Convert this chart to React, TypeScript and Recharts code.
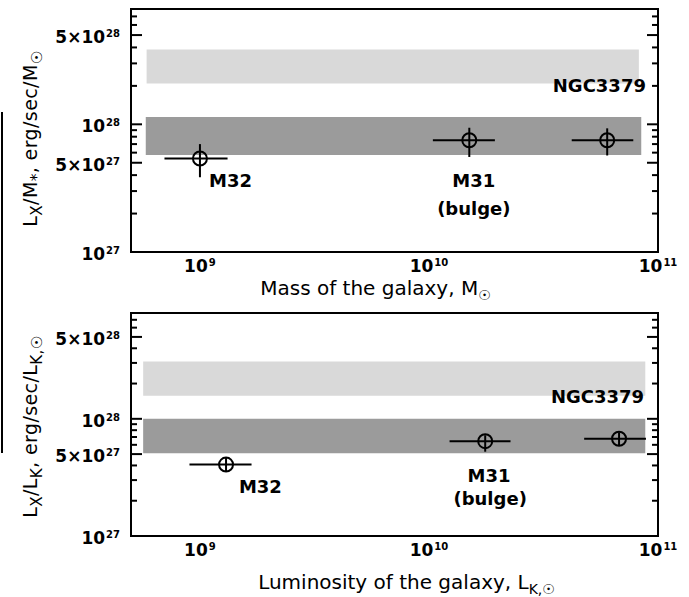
import React from 'react';
import { ComposedChart, Scatter, XAxis, YAxis, ErrorBar, ReferenceArea, Label } from 'recharts';

// axis ranges (log)
const xDomain = [5e8, 1e11];
const yDomain = [1e27, 8e28];

const xMajorTicks = [1e9, 1e10, 1e11];
const xMinorTicks = [6e8, 7e8, 8e8, 9e8, 2e9, 3e9, 4e9, 5e9, 6e9, 7e9, 8e9, 9e9, 2e10, 3e10, 4e10, 5e10, 6e10, 7e10, 8e10, 9e10];
const yMajorTicks = [1e27, 5e27, 1e28, 5e28];
const yMinorTicks = [2e27, 3e27, 4e27, 6e27, 7e27, 8e27, 9e27, 2e28, 3e28, 4e28, 6e28, 7e28];

// upper panel: per unit stellar mass
const massPoints = [
  { name: 'M32', x: 1.0e9, y: 5.4e27, xErr: [3.0e8, 3.2e8], yErr: [1.55e27, 1.6e27] },
  { name: 'M31', x: 1.5e10, y: 7.5e27, xErr: [0.46e10, 0.44e10], yErr: [1.95e27, 1.9e27] },
  { name: 'NGC3379', x: 6.0e10, y: 7.5e27, xErr: [1.8e10, 1.8e10], yErr: [1.8e27, 1.8e27] },
];
const massBands = [
  { kind: 'light', x1: 5.85e8, x2: 8.25e10, y1: 2.09e28, y2: 3.86e28 },
  { kind: 'dark', x1: 5.8e8, x2: 8.45e10, y1: 5.75e27, y2: 1.14e28 },
];
const massNotes = [
  { text: 'M32', x: 1.095e9, y: 3.63e27 },
  { text: 'M31', x: 1.57e10, y: 3.64e27 },
  { text: '(bulge)', x: 1.57e10, y: 2.19e27 },
  { text: 'NGC3379', x: 8.86e10, y: 2.01e28 },
];

// lower panel: per unit K-band luminosity
const lumPoints = [
  { name: 'M32', x: 1.3e9, y: 4.07e27, xErr: [0.4e9, 0.38e9], yErr: [0.5e27, 0.6e27] },
  { name: 'M31', x: 1.76e10, y: 6.44e27, xErr: [0.53e10, 0.51e10], yErr: [1.2e27, 0.8e27] },
  { name: 'NGC3379', x: 6.76e10, y: 6.76e27, xErr: [2.0e10, 2.1e10], yErr: [0.8e27, 0.9e27] },
];
const lumBands = [
  { kind: 'light', x1: 5.65e8, x2: 8.8e10, y1: 1.57e28, y2: 3.08e28 },
  { kind: 'dark', x1: 5.65e8, x2: 8.8e10, y1: 5.09e27, y2: 1.0e28 },
];
const lumNotes = [
  { text: 'M32', x: 1.48e9, y: 2.67e27 },
  { text: 'M31', x: 1.83e10, y: 3.31e27 },
  { text: '(bulge)', x: 1.85e10, y: 2.09e27 },
  { text: 'NGC3379', x: 8.69e10, y: 1.556e28 },
];

const bandColor: Record<string, string> = { light: '#d9d9d9', dark: '#9b9b9b' };
const noteAnchor: Record<string, string> = { M32: 'start', M31: 'middle', '(bulge)': 'middle', NGC3379: 'end' };

const boldFont = '"DejaVu Sans", sans-serif';
const titleFont = '"DejaVu Sans", sans-serif';

const xAllTicks = [...xMajorTicks, ...xMinorTicks].sort((a, b) => a - b);
const yAllTicks = [...yMajorTicks, ...yMinorTicks].sort((a, b) => a - b);
const xMajorSet = new Set(xMajorTicks);
const yMajorSet = new Set(yMajorTicks);

function powerParts(v: number) {
  const exp = Math.floor(Math.log10(v) + 1e-9);
  const mant = Math.round(v / Math.pow(10, exp));
  return { base: mant === 1 ? '10' : `${mant}×10`, exp: String(exp) };
}

const PowerTick = (props: any) => {
  const { x, y, payload, anchor, dy } = props;
  const { base, exp } = powerParts(payload.value);
  return (
    <text x={x} y={y + dy} textAnchor={anchor} fontFamily={boldFont} fontWeight="bold" fontSize={17} fill="#000">
      <tspan>{base}</tspan>
      <tspan dx={1} dy={-6} fontSize={10}>{exp}</tspan>
    </text>
  );
};

// inward tick marks drawn from the frame edge
const TickMark = (props: any) => {
  const { x, y, payload, side } = props;
  const horiz = side === 'top' || side === 'bottom';
  const major = (horiz ? xMajorSet : yMajorSet).has(payload.value);
  const len = major ? 11 : 6;
  let x2 = x;
  let y2 = y;
  if (side === 'bottom') y2 = y - len;
  if (side === 'top') y2 = y + len;
  if (side === 'left') x2 = x + len;
  if (side === 'right') x2 = x - len;
  return <line x1={x} y1={y} x2={x2} y2={y2} stroke="#000" strokeWidth={2} />;
};

const Ring = (props: any) => {
  const { cx, cy } = props;
  return <circle cx={cx} cy={cy} r={7} fill="none" stroke="#000" strokeWidth={2} />;
};

const Note = (props: any) => {
  const { cx, cy, payload } = props;
  return (
    <text x={cx} y={cy + 6.5} textAnchor={noteAnchor[payload.text]} fontFamily={boldFont} fontWeight="bold" fontSize={18} fill="#000">
      {payload.text}
    </text>
  );
};

type Part = [string, boolean];

function partsToSpans(parts: Part[], size: number, subScale: number) {
  const out: any[] = [];
  let down = false;
  parts.forEach(([s, sub], i) => {
    let dy = 0;
    if (sub && !down) { dy = 5; down = true; }
    else if (!sub && down) { dy = -5; down = false; }
    out.push(
      <tspan key={i} dy={dy} fontSize={sub ? size * subScale : size}>{s}</tspan>
    );
  });
  return out;
}

const xTitle = (parts: Part[], shift: number, dy: number) => (props: any) => {
  const { viewBox } = props;
  const cx = viewBox.x + viewBox.width / 2 + shift;
  return (
    <text x={cx} y={viewBox.y + dy} textAnchor="middle" fontFamily={titleFont} fontSize={20} fill="#000">
      {partsToSpans(parts, 20, 0.7)}
    </text>
  );
};

const yTitle = (parts: Part[], cx: number, shift: number) => (props: any) => {
  const { viewBox } = props;
  const cy = viewBox.y + viewBox.height / 2 + shift;
  return (
    <text x={cx} y={cy} transform={`rotate(-90 ${cx} ${cy})`} textAnchor="middle" fontFamily={titleFont}
      fontSize={19} letterSpacing={0.4} fill="#000">
      {partsToSpans(parts, 19, 0.8)}
    </text>
  );
};

function Panel(props: any) {
  const { height, marginTop, xAxisHeight, points, bands, notes, xLabel, yLabel } = props;
  const common = { type: 'number' as const, scale: 'log' as const, allowDataOverflow: true, interval: 0 as const };
  return (
    <ComposedChart width={689} height={height} margin={{ top: marginTop, right: 31, left: 0, bottom: 0 }}>
      {bands.map((b: any, i: number) => (
        <ReferenceArea key={i} xAxisId="x" yAxisId="y" x1={b.x1} x2={b.x2} y1={b.y1} y2={b.y2}
          fill={bandColor[b.kind]} fillOpacity={1} stroke="none" />
      ))}
      <ReferenceArea xAxisId="x" yAxisId="y" x1={xDomain[0]} x2={xDomain[1]} y1={yDomain[0]} y2={yDomain[1]}
        fill="none" stroke="#000" strokeWidth={2} ifOverflow="visible" />
      <XAxis xAxisId="x" dataKey="x" {...common} domain={xDomain} ticks={xMajorTicks} height={xAxisHeight}
        axisLine={false} tickLine={false} tickSize={0} tickMargin={20}
        tick={<PowerTick anchor="middle" dy={0} />}>
        <Label content={xLabel} />
      </XAxis>
      <XAxis xAxisId="xb" {...common} domain={xDomain} ticks={xAllTicks} mirror height={1}
        axisLine={false} tickLine={false} tickSize={0} tickMargin={0} tick={<TickMark side="bottom" />} />
      <XAxis xAxisId="xt" orientation="top" {...common} domain={xDomain} ticks={xAllTicks} mirror height={1}
        axisLine={false} tickLine={false} tickSize={0} tickMargin={0} tick={<TickMark side="top" />} />
      <YAxis yAxisId="y" dataKey="y" {...common} domain={yDomain} ticks={yMajorTicks} width={131}
        axisLine={false} tickLine={false} tickSize={0} tickMargin={11}
        tick={<PowerTick anchor="end" dy={8} />}>
        <Label content={yLabel} />
      </YAxis>
      <YAxis yAxisId="yl" {...common} domain={yDomain} ticks={yAllTicks} mirror width={1}
        axisLine={false} tickLine={false} tickSize={0} tickMargin={0} tick={<TickMark side="left" />} />
      <YAxis yAxisId="yr" orientation="right" {...common} domain={yDomain} ticks={yAllTicks} mirror width={1}
        axisLine={false} tickLine={false} tickSize={0} tickMargin={0} tick={<TickMark side="right" />} />
      <Scatter xAxisId="x" yAxisId="y" data={points} shape={<Ring />} isAnimationActive={false}>
        <ErrorBar dataKey="xErr" direction="x" width={0} stroke="#000" strokeWidth={2} />
        <ErrorBar dataKey="yErr" direction="y" width={0} stroke="#000" strokeWidth={2} />
      </Scatter>
      <Scatter xAxisId="x" yAxisId="y" data={notes} shape={<Note />} isAnimationActive={false} />
    </ComposedChart>
  );
}

export default function App() {
  return (
    <div style={{ position: 'absolute', left: 0, top: 0, width: 689, height: 597, background: '#fff' }}>
      <div style={{ position: 'absolute', left: 1, top: 112, width: 2, height: 341, background: '#000' }} />
      <div style={{ position: 'absolute', left: 0, top: 0 }}>
        <Panel height={310} marginTop={9} xAxisHeight={58} points={massPoints} bands={massBands} notes={massNotes}
          xLabel={xTitle([['Mass of the galaxy, M', false], ['☉', true]], -19, 43)}
          yLabel={yTitle([['L', false], ['X', true], ['/M', false], ['*', true], [', erg/sec/M', false], ['☉', true]], 37, 8)} />
      </div>
      <div style={{ position: 'absolute', left: 0, top: 300 }}>
        <Panel height={297} marginTop={13} xAxisHeight={61} points={lumPoints} bands={lumBands} notes={lumNotes}
          xLabel={xTitle([['Luminosity of the galaxy, L', false], ['K,☉', true]], 12, 53)}
          yLabel={yTitle([['L', false], ['X', true], ['/L', false], ['K', true], [', erg/sec/L', false], ['K,☉', true]], 37, 2)} />
      </div>
    </div>
  );
}
